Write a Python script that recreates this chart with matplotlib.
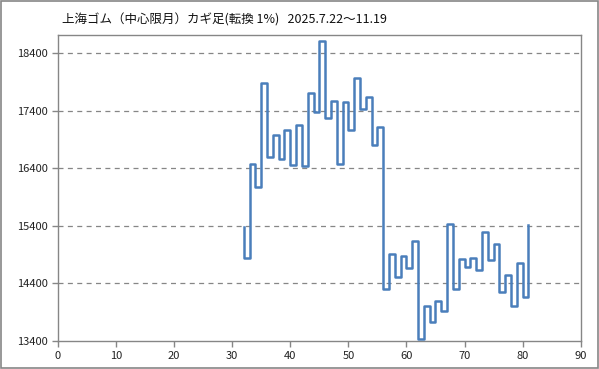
import numpy as np
import matplotlib.pyplot as plt
from matplotlib.patches import Rectangle

plt.rcParams['font.family'] = ['Noto Sans CJK JP', 'DejaVu Sans']

# kagi turning points (first value is the start, then one per step from x=32)
kagi_vals = [15380, 14840, 16480, 16080, 17880, 16600, 16990, 16570, 17060, 16460,
             17160, 16440, 17720, 17390, 18620, 17280, 17580, 16480, 17550, 17070,
             17980, 17430, 17650, 16810, 17120, 14300, 14910, 14510, 14870, 14670,
             15140, 13440, 14000, 13730, 14090, 13930, 15440, 14310, 14830, 14690,
             14850, 14630, 15300, 14810, 15090, 14260, 14540, 14010, 14750, 14170,
             15410]
x_start = 32
kagi_x = [x_start] + list(range(x_start, x_start + len(kagi_vals) - 1))

title = '上海ゴム（中心限月）カギ足(転換 1%)   2025.7.22〜11.19'
yticks = [13400, 14400, 15400, 16400, 17400, 18400]
xticks = list(range(0, 91, 10))

fig = plt.figure(figsize=(5.99, 3.69), dpi=100)
ax = fig.add_axes([0.0968, 0.0759, 0.8726, 0.8292])

ax.step(kagi_x, kagi_vals, where='post', color='#4a7ebb', lw=1.8, zorder=3)

ax.set_xlim(0, 90)
ax.set_ylim(13400, 18720)
ax.set_xticks(xticks)
ax.set_yticks(yticks)
for v in yticks[1:]:
    ax.axhline(v, color='#868686', lw=0.9, ls=(0, (4, 3.5)), zorder=1)

for s in ax.spines.values():
    s.set_color('#868686')
    s.set_linewidth(1)
ax.tick_params(direction='out', length=4, width=1, color='#868686',
               labelsize=8, labelcolor='#222222')

fig.text(0.103, 0.945, title, fontsize=9, va='center', ha='left', color='#111111')

# outer border
fig.patches.append(Rectangle((0.001, 0.002), 0.997, 0.996, transform=fig.transFigure,
                             fill=False, edgecolor='#868686', lw=1.2))

fig.savefig('out.png', dpi=100)
